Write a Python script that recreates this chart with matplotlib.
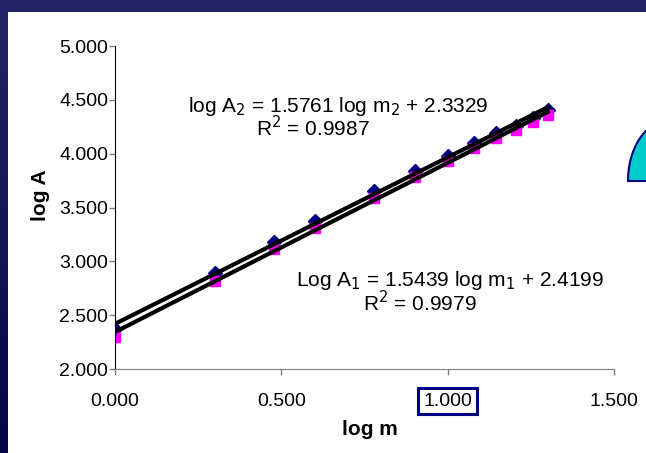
import numpy as np
import matplotlib
matplotlib.use('Agg')
import matplotlib.pyplot as plt
from matplotlib.patches import Rectangle, Polygon

plt.rcParams['font.family'] = ['Liberation Sans', 'DejaVu Sans']

# data: log of mass vs log of absorbance, two series
log_m = np.log10([1, 2, 3, 4, 6, 8, 10, 12, 14, 16, 18, 20])
log_A1 = [2.37, 2.89, 3.18, 3.37, 3.65, 3.84, 3.98, 4.10, 4.19, 4.26, 4.33, 4.41]
log_A2 = [2.30, 2.82, 3.11, 3.31, 3.59, 3.78, 3.93, 4.05, 4.15, 4.22, 4.29, 4.36]
eq1 = 'Log A$_1$ = 1.5439 log m$_1$ + 2.4199'
r1 = 'R$^2$ = 0.9979'
eq2 = 'log A$_2$ = 1.5761 log m$_2$ + 2.3329'
r2 = 'R$^2$ = 0.9987'
xticks = [0.0, 0.5, 1.0, 1.5]
yticks = [2.0, 2.5, 3.0, 3.5, 4.0, 4.5, 5.0]

W, H = 646, 453
FS = 15
fig = plt.figure(figsize=(W / 100, H / 100), dpi=100)

# navy gradient background with white panel
bg = fig.add_axes([0, 0, 1, 1], zorder=-10)
grad = np.linspace(0, 1, 256).reshape(-1, 1)
cmap = matplotlib.colors.LinearSegmentedColormap.from_list('bg', ['#242468', '#05054a'])
bg.imshow(grad, aspect='auto', cmap=cmap, extent=[0, 1, 0, 1])
bg.add_patch(Rectangle((8 / W, 0), 1, 1 - 12 / H, facecolor='white', edgecolor='none'))
bg.set_xlim(0, 1)
bg.set_ylim(0, 1)
bg.axis('off')

# cyan dome on the right edge
t = np.linspace(np.pi / 2, np.pi, 60)
cx, cy, a, b = 668, 181, 40, 60
px = cx + a * np.cos(t)
py = cy - b * np.sin(t)
pts = [(x / W, 1 - y / H) for x, y in zip(px, py)] + [(1.05, 1 - cy / H)]
bg.add_patch(Polygon(pts, closed=True, facecolor='#00CCCC', edgecolor='#000080', lw=1.5))

ax = fig.add_axes([115 / W, 1 - 369 / H, (614 - 115) / W, (369 - 46) / H])
ax.set_facecolor('none')

ax.plot(log_m, log_A1, 'D', color='#000080', ms=7, zorder=2)
ax.plot(log_m, log_A2, 's', color='#FF00FF', ms=7, zorder=2)

for ys in (log_A1, log_A2):
    k, c = np.polyfit(log_m, ys, 1)
    xx = np.array([0, log_m[-1]])
    ax.plot(xx, k * xx + c, color='black', lw=3, zorder=3)

# label positions given in pixels of the reference, converted to data
def px2data(x, y):
    return (x - 115) / 499 * 1.5, 5 - (y - 46) / 323 * 3

ax.text(*px2data(338, 106), eq2, ha='center', va='center', fontsize=FS)
ax.text(*px2data(313, 128), r2, ha='center', va='center', fontsize=FS)
ax.text(*px2data(450, 281), eq1, ha='center', va='center', fontsize=FS)
ax.text(*px2data(420, 303), r1, ha='center', va='center', fontsize=FS)

ax.set_xlim(0, 1.5)
ax.set_ylim(2, 5)
ax.set_xticks(xticks)
ax.set_yticks(yticks)
ax.set_xticklabels(['%.3f' % v for v in xticks])
ax.set_yticklabels(['%.3f' % v for v in yticks])
ax.tick_params(direction='out', length=4, width=1, colors='#808080', labelcolor='black', labelsize=14, pad=1)
ax.tick_params(axis='x', pad=13)
for s in ('top', 'right'):
    ax.spines[s].set_visible(False)
ax.spines['left'].set_color('black')
ax.spines['bottom'].set_color('#808080')

lab = ax.get_xticklabels()[2]
lab.set_bbox(dict(facecolor='white', edgecolor='#000080', lw=2.2, pad=3.5))

ax.set_xlabel('log m', fontsize=FS, fontweight='bold')
ax.set_ylabel('log A', fontsize=FS, fontweight='bold')
ax.xaxis.set_label_coords((370 - 115) / 499, (369 - 420) / 323)
ax.yaxis.set_label_coords((50 - 115) / 499, (369 - 195) / 323)

fig.savefig('out.png', dpi=100)
